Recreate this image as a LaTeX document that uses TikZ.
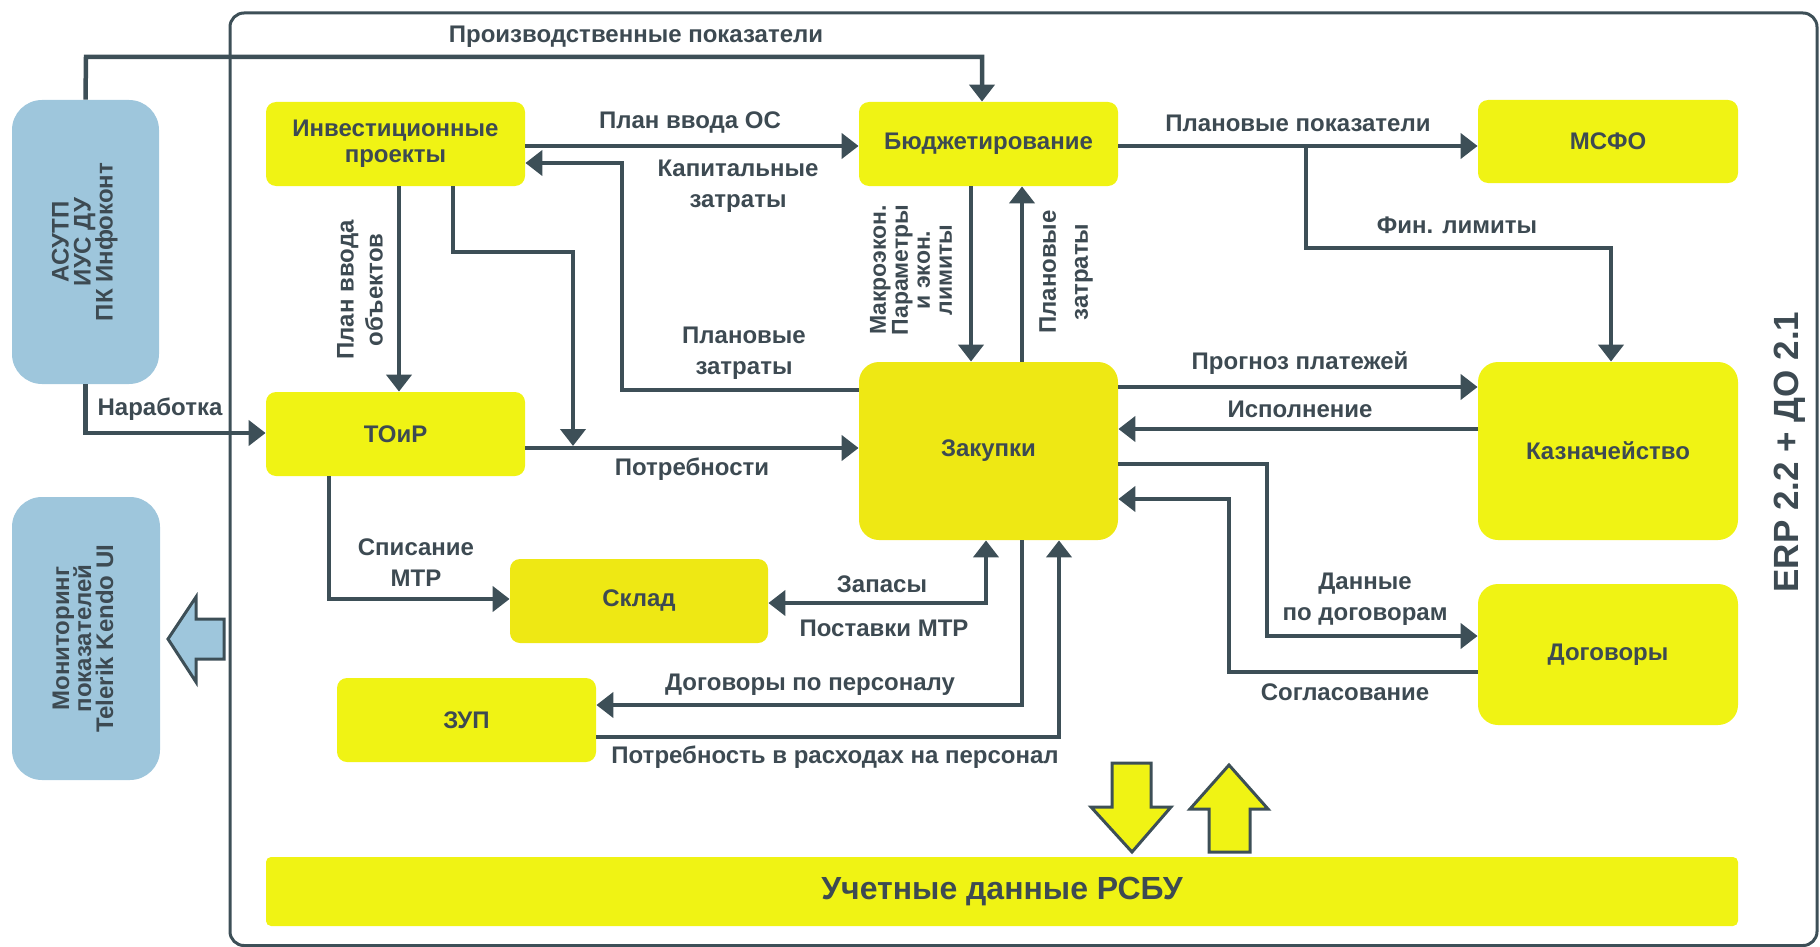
\documentclass[tikz,border=0pt]{standalone}
\usepackage{fontspec}
\setmainfont{Liberation Sans}
\usetikzlibrary{arrows.meta,calc}
\definecolor{yel}{HTML}{F0F314}
\definecolor{yel2}{HTML}{EEE814}
\definecolor{blu}{HTML}{9EC6DC}
\definecolor{lc}{HTML}{3D4F57}
\definecolor{txt}{HTML}{3D4A52}
\begin{document}
\begin{tikzpicture}[x=0.5pt,y=-0.5pt,
  ybox/.style={fill=yel, rounded corners=5pt, text=txt, font=\bfseries\fontsize{12}{13}\selectfont, align=center, inner sep=0pt},
  bbox/.style={fill=blu, rounded corners=15pt, text=txt, font=\bfseries\fontsize{12}{13}\selectfont, align=center, inner sep=0pt},
  conn/.style={draw=lc, line width=2.25pt, -{Triangle[length=8.5pt,width=12.5pt]}},
  lbl/.style={text=txt, font=\bfseries\fontsize{12}{15.5}\selectfont, align=center, inner sep=0pt},
  fat/.style={draw=lc, line width=1.5pt, line join=miter}]
\useasboundingbox (0,0) rectangle (1820,947);
% outer frame
\draw[lc, line width=1.5pt, rounded corners=7pt] (230,13) rectangle (1817,945.5);
% boxes
\node[bbox, minimum width=73.5pt, minimum height=142pt] (asutp) at (85.5,242) {\rotatebox{90}{\begin{tabular}{@{}c@{}}АСУТП\\[-2pt]ИУС ДУ\\[-2pt]ПК Инфоконт\end{tabular}}};
\node[bbox, minimum width=74pt, minimum height=141.5pt] (mon) at (86,638.5) {\rotatebox{90}{\begin{tabular}{@{}c@{}}Мониторинг\\[-2pt]показателей\\[-2pt]Telerik Kendo UI\end{tabular}}};
\node[ybox, minimum width=129.5pt, minimum height=42pt] (inv) at (395.5,144) {Инвестиционные\\проекты};
\node[ybox, minimum width=129.5pt, minimum height=42pt] (bud) at (988.5,144) {Бюджетирование};
\node[ybox, minimum width=130pt, minimum height=41.5pt] (msfo) at (1608,141.5) {МСФО};
\node[ybox, minimum width=129.5pt, minimum height=42pt] (toir) at (395.5,434) {ТОиР};
\node[ybox, fill=yel2, rounded corners=10pt, minimum width=129.5pt, minimum height=89pt] (zak) at (988.5,451) {Закупки};
\node[ybox, rounded corners=10pt, minimum width=130pt, minimum height=89pt] (kaz) at (1608,451) {Казначейство};
\node[ybox, fill=yel2, minimum width=129pt, minimum height=42pt] (sklad) at (639,601) {Склад};
\node[ybox, minimum width=129.5pt, minimum height=42pt] (zup) at (466.5,720) {ЗУП};
\node[ybox, rounded corners=10pt, minimum width=130pt, minimum height=70.5pt] (dog) at (1608,654.5) {Договоры};
\node[ybox, rounded corners=2.5pt, minimum width=736pt, minimum height=34.5pt, font=\bfseries\fontsize{16}{18}\selectfont] (rsbu) at (1002,891.5) {Учетные данные РСБУ};
% connectors
\coordinate (topbend) at (86,57);
\draw[conn] (asutp.north) -- (topbend) -| (982,0 |- bud.north);
\draw[conn] (inv.east |- 0,146) -- (bud.west |- 0,146);
\draw[conn] (zak.west |- 0,390) -| (622,163) -- (inv.east |- 0,163);
\draw[conn] (399,0 |- inv.south) -- (399,0 |- toir.north);
\coordinate (potrtop) at (573,446);
\draw[conn] (453,0 |- inv.south) |- (573,252) -- (potrtop);
\draw[conn] (toir.east |- 0,448) -- (zak.west |- 0,448);
\draw[conn] (asutp.south) |- (toir.west |- 0,433);
\draw[conn] (329,0 |- toir.south) |- (sklad.west |- 0,599);
\draw[conn, {Triangle[length=8.5pt,width=12.5pt]}-{Triangle[length=8.5pt,width=12.5pt]}] (sklad.east |- 0,603) -| (986,0 |- zak.south);
\draw[conn] (1022,0 |- zak.south) |- (zup.east |- 0,705);
\draw[conn] (zup.east |- 0,737) -| (1059,0 |- zak.south);
\draw[conn] (971,0 |- bud.south) -- (971,0 |- zak.north);
\draw[conn] (1022,0 |- zak.north) -- (1022,0 |- bud.south);
\draw[conn] (bud.east |- 0,146) -- (msfo.west |- 0,146);
\coordinate (fl) at (1306,146);
\draw[conn] (fl) |- (1611,248) -- (1611,0 |- kaz.north);
\draw[conn] (zak.east |- 0,387) -- (kaz.west |- 0,387);
\draw[conn] (kaz.west |- 0,429) -- (zak.east |- 0,429);
\draw[conn] (zak.east |- 0,464) -| (1267,636) -- (dog.west |- 0,636);
\draw[conn] (dog.west |- 0,672) -| (1229,499) -- (zak.east |- 0,499);
% fat arrows
\draw[fat, fill=yel] (1112,763) -- (1151,763) -- (1151,807) -- (1171,807) -- (1132,852) -- (1091,807) -- (1112,807) -- cycle;
\draw[fat, fill=yel] (1209,852) -- (1250,852) -- (1250,809) -- (1268,809) -- (1229,765) -- (1190,809) -- (1209,809) -- cycle;
\draw[fat, fill=blu] (224,619) -- (196,619) -- (196,597) -- (168,639) -- (196,682) -- (196,659) -- (224,659) -- cycle;
% labels
\node[lbl] (lprod) at (636,37) {Производственные показатели};
\node[lbl] (lpos) at (690,123) {План ввода ОС};
\node[lbl] (lcap) at (738,186) {Капитальные\\затраты};
\node[lbl] (lplz) at (744,353) {Плановые\\затраты};
\node[lbl, rotate=90, font=\bfseries\fontsize{12}{14.5}\selectfont] (lpvo) at (360,290) {План ввода\\объектов};
\node[lbl] (lpotr) at (692,469) {Потребности};
\node[lbl] (lnar) at (160,409) {Наработка};
\node[lbl] (lspis) at (416,563) {Списание\\МТР};
\node[lbl] (lzap) at (882,584) {Запасы};
\node[lbl] (lpost) at (884,628) {Поставки МТР};
\node[lbl] (ldpp) at (810,685) {Договоры по персоналу};
\node[lbl] (lprn) at (835,757) {Потребность в расходах на персонал};
\node[lbl, rotate=90, font=\bfseries\fontsize{11.5}{11}\selectfont] (lmak) at (911,270) {Макроэкон.\\Параметры\\и экон.\\лимиты};
\node[lbl, rotate=90, font=\bfseries\fontsize{12}{16}\selectfont] (lplz2) at (1066,272) {Плановые\\затраты};
\node[lbl] (lplp) at (1298,123) {Плановые показатели};
\node[lbl] (lfin) at (1457,225) {Фин. лимиты};
\node[lbl] (lprog) at (1300,363) {Прогноз платежей};
\node[lbl] (lisp) at (1300,409) {Исполнение};
\node[lbl] (ldan) at (1365,599) {Данные\\по договорам};
\node[lbl] (lsogl) at (1345,692) {Согласование};
\node[lbl, rotate=90, font=\bfseries\fontsize{17.5}{20}\selectfont] (lerp) at (1790,452) {ERP 2.2 + ДО 2.1};
\end{tikzpicture}
\end{document}
